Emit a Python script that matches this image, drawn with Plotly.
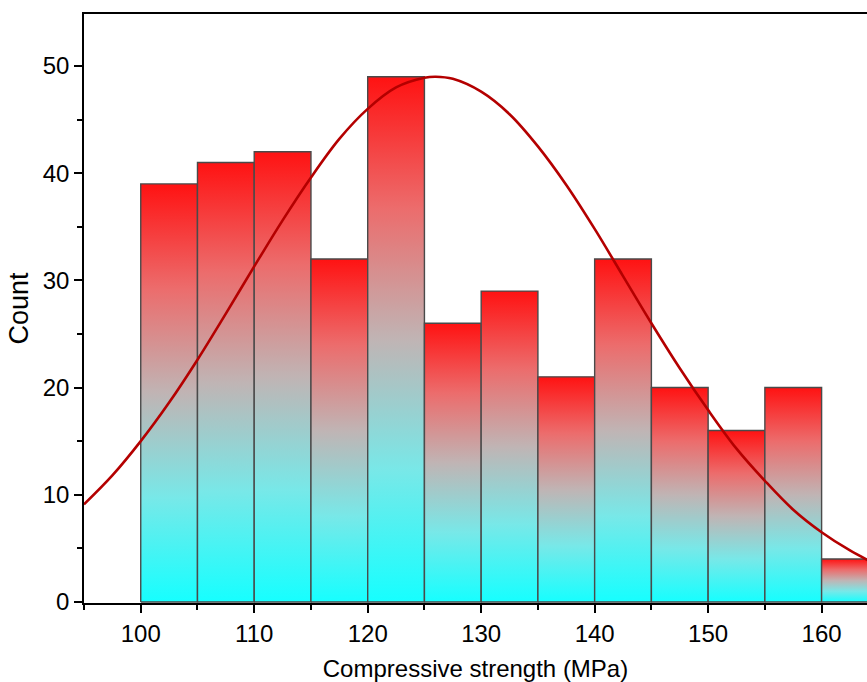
import plotly.graph_objects as go

# Histogram data (bin edges in MPa, counts)
bin_left = [100, 105, 110, 115, 120, 125, 130, 135, 140, 145, 150, 155, 160]
bin_width = 5
counts = [39, 41, 42, 32, 49, 26, 29, 21, 32, 20, 16, 20, 4]

# Normal-fit curve values
curve_x = [95, 97.5, 100, 102.5, 105, 107.5, 110, 112.5, 115, 117.5, 120, 122.5,
           125, 126, 127.5, 130, 132.5, 135, 137.5, 140, 142.5, 145, 147.5, 150,
           152.5, 155, 157.5, 160, 162.5, 165]
curve_y = [9.1, 11.8, 15.0, 18.6, 22.6, 26.9, 31.3, 35.6, 39.6, 43.2, 46.0, 48.0,
           48.9, 49.0, 48.8, 47.6, 45.5, 42.5, 38.9, 34.8, 30.4, 26.0, 21.8, 17.9,
           14.3, 11.3, 8.6, 6.5, 4.8, 3.4]

x_ticks = [100, 110, 120, 130, 140, 150, 160]
y_ticks = [0, 10, 20, 30, 40, 50]

grad = [[0.0, "#16FFFF"], [0.25, "#78E8E8"], [0.5, "#C0B4B4"],
        [0.75, "#EC6C6C"], [1.0, "#FF1212"]]

fig = go.Figure()
for l, c in zip(bin_left, counts):
    r = l + bin_width
    fig.add_trace(go.Scatter(
        x=[l, l, r, r, l], y=[0, c, c, 0, 0],
        mode="lines", fill="toself",
        fillgradient=dict(type="vertical", colorscale=grad),
        line=dict(color="#4a4a4a", width=1.4),
        hoverinfo="skip", showlegend=False))

fig.add_trace(go.Scatter(
    x=curve_x, y=curve_y, mode="lines",
    line=dict(color="#B40000", width=2.6, shape="spline", smoothing=1.0),
    showlegend=False))

font = "Arial, 'Liberation Sans', sans-serif"
fig.update_layout(
    width=867, height=682,
    margin=dict(l=84, r=0, t=14, b=79),
    paper_bgcolor="white", plot_bgcolor="white",
    font=dict(family=font, color="black", size=24),
    xaxis=dict(
        range=[95, 164], tickvals=x_ticks, ticks="outside", ticklen=8, tickwidth=1.5,
        tickcolor="black", showline=True, linecolor="black", linewidth=1.5,
        mirror=True, showgrid=False, zeroline=False,
        minor=dict(dtick=5, tick0=95, ticks="outside", ticklen=5, tickwidth=1.5,
                   tickcolor="black", showgrid=False),
        title=dict(text="Compressive strength (MPa)", font=dict(size=24), standoff=16),
        tickfont=dict(size=24)),
    yaxis=dict(
        range=[-0.1, 54.85], tickvals=y_ticks, ticks="outside", ticklen=8, tickwidth=1.5,
        tickcolor="black", showline=True, linecolor="black", linewidth=1.5,
        mirror=False, showgrid=False, zeroline=False,
        minor=dict(dtick=5, tick0=0, ticks="outside", ticklen=5, tickwidth=1.5,
                   tickcolor="black", showgrid=False),
        title=dict(text="Count", font=dict(size=27), standoff=6),
        tickfont=dict(size=24)),
)

fig.write_html("out.html")
